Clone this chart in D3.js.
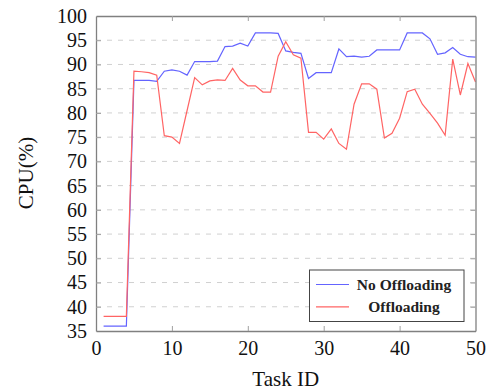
<!DOCTYPE html>
<html><head><meta charset="utf-8">
<script src="https://cdn.jsdelivr.net/npm/d3@7"></script>
<style>
body{margin:0;background:#fff;}
text{font-family:"Liberation Serif","DejaVu Serif",serif;}
</style></head>
<body><svg id="c" width="486" height="390"></svg>
<script>
const taskIds = d3.range(1, 51);
const noOffloading = [36,36,36,36,86.7,86.7,86.7,86.5,88.6,88.9,88.6,87.8,90.6,90.6,90.6,90.7,93.7,93.8,94.4,93.8,96.5,96.5,96.5,96.4,92.8,92.5,92.3,87.1,88.3,88.3,88.3,93.2,91.6,91.7,91.5,91.7,93,93,93,93,96.5,96.5,96.5,95.3,92.1,92.4,93.5,92.1,91.6,91.5];
const offloading = [38,38,38,38,88.6,88.5,88.3,87.8,75.3,75,73.7,80.5,87.3,85.8,86.6,86.8,86.7,89.2,86.8,85.6,85.6,84.3,84.3,91.7,94.7,92,91.3,76,76,74.6,76.7,73.7,72.5,81.8,86,86,84.9,74.8,75.8,78.9,84.4,84.9,81.8,79.9,77.9,75.4,91.1,83.7,90.2,86.4];
const xTicks = [0,10,20,30,40,50];
const yTicks = d3.range(35, 101, 5);
const seriesNames = ["No Offloading", "Offloading"];
const seriesColors = ["#6464ff", "#ff6464"];

const svg = d3.select("#c");
const L = 96, R = 475.5, T = 16, B = 331;
const x = d3.scaleLinear().domain([0, 50]).range([L, R]);
const y = d3.scaleLinear().domain([35, 100]).range([B, T]);

// grid
svg.append("g").selectAll("line").data(yTicks.filter(v => v > 35 && v < 100)).join("line")
  .attr("x1", L).attr("x2", R).attr("y1", d => y(d)).attr("y2", d => y(d))
  .attr("stroke", "#d0d0d0").attr("stroke-width", 1).attr("stroke-dasharray", "5,6");

// lines
const line = d3.line().x((d, i) => x(taskIds[i])).y(d => y(d));
[noOffloading, offloading].forEach((s, k) => {
  svg.append("path").datum(s).attr("d", line).attr("fill", "none")
    .attr("stroke", seriesColors[k]).attr("stroke-width", 1.2);
});

// axes (inside ticks, frame)
const tickLen = 5;
const axB = svg.append("g").attr("transform", `translate(0,${B})`)
  .call(d3.axisBottom(x).tickValues(xTicks).tickSizeInner(-tickLen).tickSizeOuter(0).tickPadding(10));
const axT = svg.append("g").attr("transform", `translate(0,${T})`)
  .call(d3.axisTop(x).tickValues(xTicks).tickSizeInner(-tickLen).tickSizeOuter(0).tickFormat(""));
const axL = svg.append("g").attr("transform", `translate(${L},0)`)
  .call(d3.axisLeft(y).tickValues(yTicks).tickSizeInner(-tickLen).tickSizeOuter(0).tickPadding(9));
const axR = svg.append("g").attr("transform", `translate(${R},0)`)
  .call(d3.axisRight(y).tickValues(yTicks).tickSizeInner(-tickLen).tickSizeOuter(0).tickFormat(""));
[axB, axT, axL, axR].forEach(a => {
  a.attr("font-family", null);
  a.select(".domain").attr("stroke", "#808080").attr("stroke-width", 1.3);
  a.selectAll(".tick line").attr("stroke", "#a0a0a0");
  a.selectAll("text").attr("font-size", 20).attr("fill", "#111");
});
axB.selectAll(".tick text").attr("dy", "0.71em");
[axB, axT].forEach(a => a.selectAll(".tick").filter(d => d === 0 || d === 50).select("line").remove());
[axL, axR].forEach(a => a.selectAll(".tick").filter(d => d === 35 || d === 100).select("line").remove());

// axis titles
svg.append("text").attr("x", (L + R) / 2).attr("y", 386).attr("text-anchor", "middle")
  .attr("font-size", 21).attr("fill", "#111").text("Task ID");
svg.append("text").attr("transform", "translate(33,173) rotate(-90)").attr("text-anchor", "middle")
  .attr("font-size", 21).attr("fill", "#111").text("CPU(%)");

// legend
const lg = svg.append("g");
lg.append("rect").attr("x", 309.5).attr("y", 270).attr("width", 154.5).attr("height", 51.5)
  .attr("fill", "#fff").attr("stroke", "#444").attr("stroke-width", 1);
seriesNames.forEach((n, i) => {
  const yy = 284.5 + i * 22.3;
  lg.append("line").attr("x1", 316).attr("x2", 349).attr("y1", yy).attr("y2", yy)
    .attr("stroke", seriesColors[i]).attr("stroke-width", 1.2);
  lg.append("text").attr("x", 404).attr("y", yy).attr("dy", "0.35em").attr("text-anchor", "middle")
    .attr("font-size", 15.5).attr("font-weight", "bold").attr("fill", "#222").text(n);
});
</script></body></html>
